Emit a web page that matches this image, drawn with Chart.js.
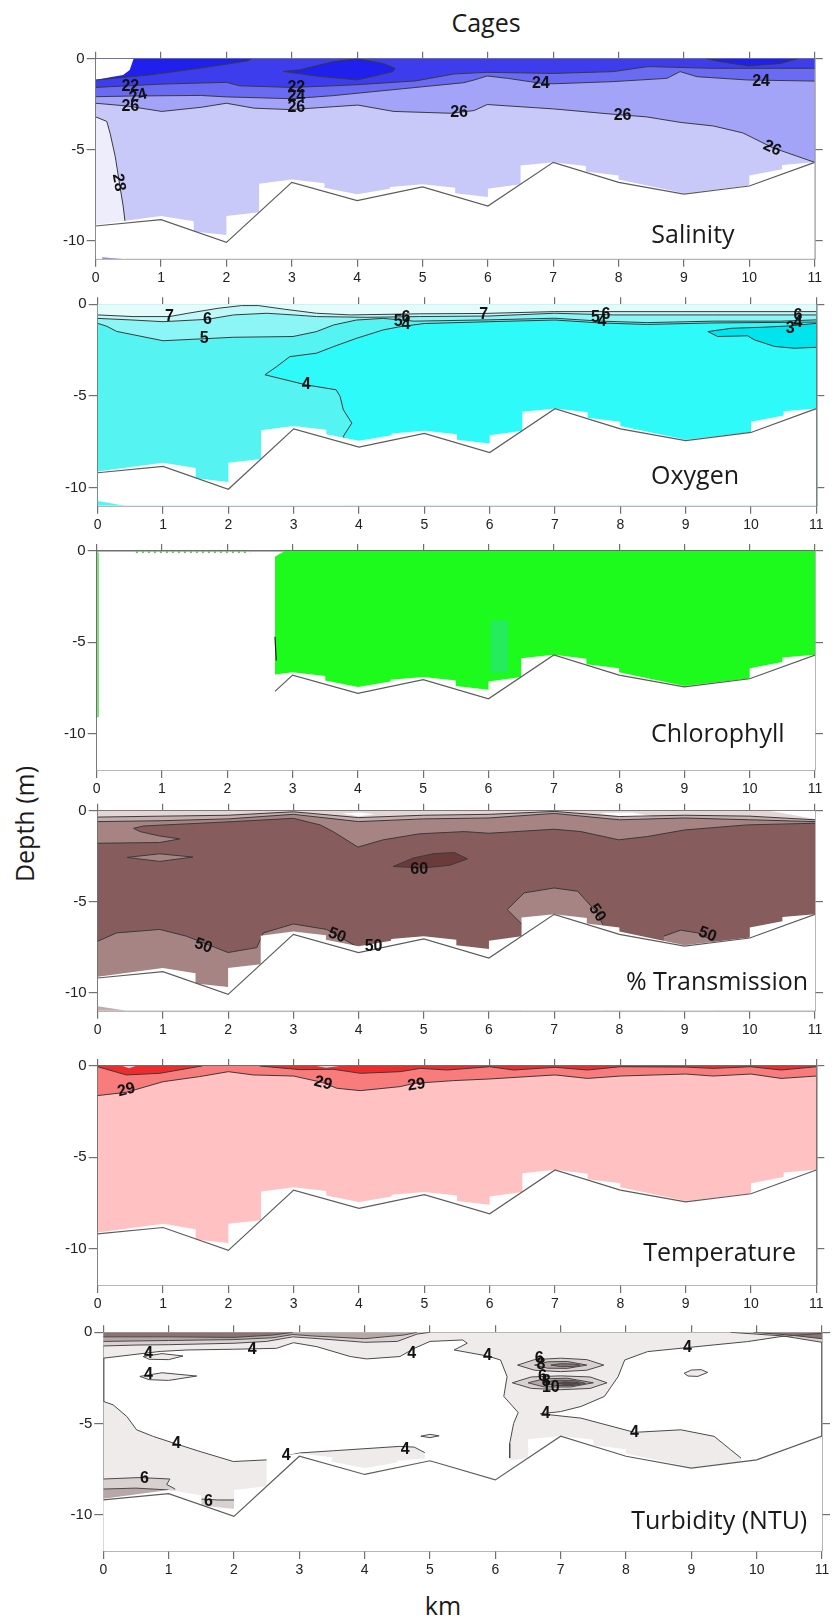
<!DOCTYPE html>
<html>
<head>
<meta charset="utf-8">
<script src="https://cdn.jsdelivr.net/npm/chart.js@4.4.1/dist/chart.umd.min.js"></script>
<style>
  body { margin: 0; width: 834px; height: 1620px; background: #fff; position: relative; overflow: hidden; }
  canvas.panel { position: absolute; left: 0; }
  .txt { position: absolute; font-family: "Open Sans", sans-serif; font-size: 25px; color: #1a1a1a; white-space: nowrap; }
</style>
</head>
<body>
<div class="txt" style="left:486px; top:22px; transform:translate(-50%,-50%)">Cages</div>
<div class="txt" style="left:24px; top:824px; transform:translate(-50%,-50%) rotate(-90deg)">Depth (m)</div>
<div class="txt" style="left:443px; top:1605px; transform:translate(-50%,-50%)">km</div>
<script>
// ---- axes ----
const kmTicks = [0, 1, 2, 3, 4, 5, 6, 7, 8, 9, 10, 11];
const depthTicks = [0, -5, -10];

// ---- seabed along the transect, and the edge of the gridded data ----
const bedKm = [0, 1, 2, 3, 4, 5, 6, 7, 8, 9, 10, 11];
const bedDepth = [-9.2, -8.85, -10.1, -6.8, -7.8, -7.05, -8.1, -5.7, -6.8, -7.45, -7.0, -5.7];
const chlBedKm = [2.73, 3, 4, 5, 6, 7, 8, 9, 10, 11];
const chlBedDepth = [-7.69, -6.8, -7.8, -7.05, -8.1, -5.7, -6.8, -7.45, -7.0, -5.7];
const floorKm = [0, 1, 1.5, 1.5, 2, 2, 2.5, 2.5, 3, 3.5, 3.5, 4, 4.5, 4.5, 5, 5.5, 5.5, 6, 6, 6.5, 6.5, 7, 7.5, 7.5, 8, 8, 9, 10, 10, 10.5, 10.5, 11];
const floorDepth = [-9.13, -8.65, -8.94, -9.5, -9.7, -8.65, -8.45, -6.88, -6.65, -6.85, -7.1, -7.45, -7.15, -7.05, -6.9, -7.1, -7.4, -7.6, -7.15, -6.9, -5.87, -5.69, -5.9, -6.2, -6.42, -6.65, -7.4, -6.98, -6.42, -6.08, -5.84, -5.69];

// ---- salinity contours [km, depth] ----
const sal20 = [[0,-1.17],[0.81,-0.9],[1.57,-0.53],[2.0,-0.3],[2.33,-0.11],[2.38,0]];
const salLens1 = [[2.87,-0.7],[3.12,-0.61],[3.64,-0.16],[4.0,0],[4.4,-0.26],[4.58,-0.53],[4.55,-0.71],[4.0,-1.17],[3.37,-0.95],[2.87,-0.7]];
const salLens2 = [[9.34,0],[9.55,-0.16],[9.99,-0.4],[10.48,-0.26],[10.73,0]];
const sal22 = [[0,-1.58],[0.98,-1.4],[2,-1.3],[2.2,-1.49],[3,-1.58],[3.64,-1.49],[4.0,-1.43],[4.9,-1.22],[5.48,-0.84],[5.99,-0.75],[7,-0.81],[7.92,-0.71],[8.43,-0.44],[8.53,-0.44],[9.45,-0.53],[11,-0.53]];
const sal24 = [[0,-2.09],[0.6,-2.05],[1.6,-2.02],[2,-2.1],[3,-2.2],[3.64,-2.03],[4.0,-1.9],[4.9,-1.58],[5.63,-1.32],[5.79,-1.17],[5.99,-0.95],[6.3,-1.08],[6.81,-1.35],[7,-1.38],[7.92,-1.26],[8.74,-1.08],[8.94,-0.71],[9.2,-0.99],[9.97,-1.17],[11,-1.23]];
const sal26 = [[0,-2.45],[0.48,-2.6],[1.01,-2.9],[1.62,-2.67],[2.0,-2.45],[2.42,-2.72],[2.98,-2.8],[3.64,-2.64],[4.01,-2.55],[4.56,-2.9],[5.43,-3.0],[5.79,-2.85],[5.99,-2.52],[7.0,-2.76],[7.9,-3.05],[8.43,-3.2],[8.94,-3.5],[9.45,-3.7],[9.9,-4.08],[10.36,-4.9],[11,-5.7]];
const sal28 = [[0,-3.2],[0.17,-3.45],[0.22,-4.1],[0.3,-5.4],[0.37,-7.0],[0.42,-8.1],[0.45,-9.0]];
const salBlank = [[0,0],[0,-1.17],[0.22,-1.02],[0.42,-0.9],[0.52,-0.62],[0.58,0]];
const salCorner = [[0.1,-10.93],[0.43,-11],[0.1,-11]];
const salLabels = [['22',0.53,-1.54,0],['24',0.65,-2.05,-15],['26',0.53,-2.66,0],['22',3.07,-1.58,0],['24',3.07,-2.1,0],['26',3.07,-2.7,0],
  ['24',6.81,-1.36,0],['24',10.18,-1.26,0],['26',5.56,-2.98,0],['26',8.06,-3.15,0],['26',10.35,-4.93,25],['28',0.35,-6.81,80]];

// ---- oxygen contours ----
const ox4 = [[3.78,-7.4],[3.76,-7.21],[3.89,-6.49],[3.76,-5.76],[3.71,-5.03],[3.65,-4.67],[3.19,-4.4],[2.56,-3.85],[2.74,-3.4],[2.94,-2.86],[3.35,-2.67],[3.61,-2.31],[3.96,-1.86],[4.37,-1.4],[4.63,-1.22],[5.0,-1.05],[6,-0.95],[7,-0.86],[7.7,-1.02],[8.4,-1.1],[9.4,-1.02],[11,-0.97]];
const ox5 = [[0,-1.04],[0.14,-1.2],[0.29,-1.48],[0.54,-1.66],[1.0,-1.99],[1.63,-1.88],[2.08,-1.8],[2.99,-1.76],[3.35,-1.49],[3.61,-1.13],[3.96,-0.86],[4.37,-0.77],[4.84,-0.92],[5.99,-0.85],[6.99,-0.76],[7.7,-0.92],[8.41,-1.0],[9.43,-0.92],[10.45,-0.92],[11,-0.85]];
const ox6 = [[0,-0.77],[0.54,-0.86],[1.0,-0.95],[1.68,-0.82],[2.08,-0.58],[2.59,-0.49],[2.99,-0.58],[3.35,-0.67],[4.12,-0.71],[4.93,-0.67],[5.99,-0.64],[6.99,-0.49],[7.9,-0.58],[9.43,-0.58],[11,-0.58]];
const ox7 = [[0,-0.58],[0.54,-0.67],[1.1,-0.67],[1.38,-0.49],[1.84,-0.22],[2.2,-0.07],[2.46,-0.07],[2.86,-0.27],[3.35,-0.49],[3.87,-0.58],[4.93,-0.52],[5.9,-0.5],[6.99,-0.4],[8.93,-0.4],[11,-0.4]];
const ox3 = [[11,-2.35],[10.66,-2.4],[10.36,-2.3],[10.05,-1.94],[9.95,-1.72],[9.49,-1.76],[9.34,-1.49],[9.7,-1.31],[10.2,-1.25],[10.6,-1.18],[11,-1.04]];
const oxCorner = [[0,-10.75],[0.42,-11],[0,-11]];
const oxLabels = [['7',1.1,-0.67,0],['6',1.68,-0.84,0],['5',1.63,-1.88,0],['4',3.19,-4.4,0],['5',4.6,-0.94,0],['6',4.72,-0.7,0],['4',4.72,-1.1,0],
  ['7',5.91,-0.55,0],['5',7.62,-0.72,0],['6',7.78,-0.58,0],['4',7.72,-0.95,0],['6',10.72,-0.6,0],['4',10.72,-1.0,0],['3',10.6,-1.35,0]];

// ---- chlorophyll ----
const chlGreen = [[2.73,-0.31],[2.88,0],[11,0],[11,-13],[2.73,-13]];
const chlPatch = [[6.03,-3.8],[6.3,-3.8],[6.3,-6.67],[6.03,-6.67]];
const chlEdge = [[2.73,-4.7],[2.75,-6.0]];
const chlLeft = [[0.02,-0.1],[0.02,-9.1]];
const chlSurf = [[0.6,-0.05],[2.35,-0.05]];

// ---- % transmission contours ----
const trTop50 = [[0,-1.79],[0.95,-1.75],[1.26,-1.55],[0.95,-1.39],[0.65,-1.15],[0.55,-0.97],[0.7,-0.84],[1.57,-0.69],[2.08,-0.6],[3.0,-0.42],[3.41,-0.78],[3.61,-1.15],[3.99,-2.0],[4.38,-1.6],[4.94,-1.27],[5.62,-1.15],[6.0,-1.24],[7.0,-1.02],[7.41,-1.15],[7.99,-1.6],[8.43,-1.42],[9.0,-1.06],[9.96,-0.78],[11,-0.69]];
const trLens = [[0.45,-2.57],[0.95,-2.37],[1.46,-2.55],[0.95,-2.79],[0.45,-2.57]];
const tr50bot = [[0,-7.18],[0.29,-6.72],[0.95,-6.53],[1.36,-6.9],[2.0,-7.8],[2.44,-7.53],[2.54,-6.72],[3.0,-6.23],[3.51,-6.53],[4.0,-7.53],[4.3,-7.45]];
const tr50bump = [[6.51,-6.26],[6.28,-5.44],[6.54,-4.52],[7.0,-4.25],[7.36,-4.43],[7.66,-5.62],[7.71,-5.99],[7.75,-6.3]];
const tr50bump2 = [[8.68,-6.9],[8.94,-6.57],[9.2,-6.72],[9.45,-7.18]];
const tr60 = [[4.53,-3.07],[4.84,-2.6],[5.16,-2.36],[5.47,-2.3],[5.67,-2.65],[5.4,-3.0],[5.0,-3.15],[4.53,-3.07]];
const trTop40 = [[0,-0.6],[1,-0.55],[2,-0.45],[3,-0.2],[4,-0.6],[5,-0.45],[6,-0.4],[7,-0.15],[8,-0.5],[9,-0.4],[10,-0.5],[11,-0.6]];
const trTop30 = [[0,-0.35],[1,-0.3],[2,-0.25],[3,-0.06],[4,-0.38],[5,-0.25],[6,-0.2],[7,-0.04],[8,-0.32],[9,-0.25],[10,-0.3],[11,-0.5]];
const trClear1 = [[3.75,-0.15],[4.0,-0.3],[4.25,-0.2],[4.0,-0.1]];
const trClear2 = [[7.7,-0.12],[8.0,-0.35],[8.5,-0.3],[8.2,-0.1]];
const trClear3 = [[10.3,0],[11,-0.45],[11,0]];
const trCorner = [[0,-10.75],[0.45,-11],[0,-11]];
const trLabels = [['60',4.93,-3.25,0],['50',1.62,-7.44,20],['50',3.67,-6.86,20],['50',4.23,-7.45,0],['50',7.66,-5.62,55],['50',9.35,-6.81,20]];

// ---- temperature contours ----
const t29 = [[0,-1.62],[0.44,-1.44],[1.0,-0.86],[1.56,-0.58],[2.0,-0.31],[2.38,-0.49],[3.0,-0.55],[3.44,-0.9],[3.66,-1.22],[4.02,-1.35],[4.63,-1.13],[4.84,-0.95],[5.45,-0.8],[6.0,-0.71],[7.0,-0.49],[7.5,-0.68],[8.0,-0.55],[9.0,-0.44],[9.42,-0.55],[10.0,-0.44],[10.46,-0.68],[11,-0.55]];
const t30a = [[0,-0.04],[0.44,-0.49],[0.95,-0.4],[1.53,-0.04],[1.6,0]];
const t30b = [[2.48,0],[3.1,-0.2],[3.61,-0.18],[4.02,-0.4],[4.63,-0.31],[4.94,-0.13],[5.35,-0.22],[6.0,-0.04],[6.37,-0.22],[7.0,-0.07],[7.5,-0.22],[8.0,-0.04],[9.0,-0.06],[9.42,-0.13],[10,-0.04],[10.46,-0.22],[11,-0.04]];
const tDip1 = [[0.38,0],[0.48,-0.12],[0.58,0]];
const tDip2 = [[3.35,0],[3.5,-0.1],[3.7,0]];
const tLabels = [['29',0.44,-1.31,-15],['29',3.45,-0.95,15],['29',4.88,-1.04,-8]];

// ---- turbidity contours ----
const tb4up = [[0,-1.42],[0.4,-1.25],[0.87,-1.05],[1.28,-0.97],[1.99,-0.93],[2.65,-0.88],[2.91,-0.57],[3.27,-0.79],[3.78,-1.33],[4.03,-1.46],[4.54,-1.33],[4.76,-0.88],[5.0,-0.5],[5.5,-0.42],[5.57,-0.6],[5.37,-0.97],[5.88,-1.3],[6.08,-1.52],[6.18,-2.43],[6.13,-3.52],[6.35,-4.4],[6.28,-5.0],[6.22,-6.1],[6.22,-6.9]];
const tb4low = [[9.76,-6.9],[9.6,-6.44],[9.35,-5.71],[8.84,-5.35],[8.13,-5.49],[7.31,-4.71],[6.69,-4.47],[7.0,-4.35],[7.31,-4.07],[7.67,-3.52],[7.88,-2.43],[7.98,-1.52],[8.33,-1.06],[8.94,-0.84],[9.35,-0.69],[9.86,-0.51],[10.36,-0.24],[11,-0.05]];
const tb4left = [[0,-3.79],[0.15,-3.98],[0.36,-4.62],[0.51,-5.35],[0.77,-5.72],[1.12,-6.13],[1.48,-6.54],[1.99,-7.09],[2.5,-7.0],[3.01,-6.62],[3.52,-6.5],[4.54,-6.26],[4.76,-6.3],[4.92,-6.6]];
const tbE1 = [[0.61,-1.33],[0.9,-1.17],[1.22,-1.3],[1.0,-1.5],[0.7,-1.48],[0.61,-1.33]];
const tbE2 = [[0.56,-2.42],[0.9,-2.22],[1.43,-2.4],[1.0,-2.64],[0.7,-2.6],[0.56,-2.42]];
const tbE3 = [[8.89,-2.25],[9.0,-2.07],[9.15,-2.05],[9.25,-2.2],[9.1,-2.42],[8.95,-2.4],[8.89,-2.25]];
const tbE4 = [[4.86,-5.7],[5.0,-5.6],[5.14,-5.68],[5.0,-5.78],[4.86,-5.7]];
const tbS6 = [[0,-0.75],[0.5,-0.7],[1,-0.68],[2,-0.6],[2.5,-0.5],[2.9,-0.25],[3.3,-0.35],[4.0,-0.55],[4.5,-0.5],[4.8,-0.1],[5.0,0]];
const tbS8 = [[0,-0.5],[1,-0.45],[2,-0.4],[2.6,-0.3],[2.9,-0.12],[3.2,-0.2],[4,-0.35],[4.6,-0.15],[4.8,0]];
const tbS10 = [[0,-0.25],[1,-0.25],[2,-0.28],[2.6,-0.15],[2.9,0]];
const tbR6 = [[9.6,0],[10.4,-0.2],[11,-0.55]];
const tbR8 = [[9.95,0],[10.5,-0.15],[11,-0.35]];
const tbUp6 = [[6.34,-1.8],[6.6,-1.5],[7.0,-1.42],[7.4,-1.5],[7.66,-1.8],[7.4,-2.08],[7.0,-2.16],[6.6,-2.08],[6.34,-1.8]];
const tbUp8 = [[6.6,-1.8],[6.8,-1.62],[7.1,-1.6],[7.4,-1.8],[7.1,-1.98],[6.8,-1.97],[6.6,-1.8]];
const tbUp10 = [[6.85,-1.8],[7.0,-1.72],[7.2,-1.74],[7.3,-1.8],[7.2,-1.88],[7.0,-1.88],[6.85,-1.8]];
const tbLo6 = [[6.26,-2.77],[6.55,-2.45],[7.0,-2.39],[7.45,-2.45],[7.71,-2.77],[7.45,-3.08],[7.0,-3.15],[6.55,-3.08],[6.26,-2.77]];
const tbLo8 = [[6.5,-2.77],[6.75,-2.55],[7.1,-2.52],[7.5,-2.77],[7.15,-3.0],[6.75,-3.0],[6.5,-2.77]];
const tbLo10 = [[6.75,-2.77],[6.9,-2.63],[7.2,-2.64],[7.38,-2.8],[7.2,-2.92],[6.9,-2.92],[6.75,-2.77]];
const tbLo12 = [[6.95,-2.8],[7.05,-2.72],[7.25,-2.75],[7.3,-2.82],[7.1,-2.88],[6.95,-2.8]];
const tb6a = [[0,-8.05],[0.56,-7.97],[1.02,-8.05],[0.97,-8.35],[1.1,-8.6]];
const tb8a = [[0,-8.6],[0.5,-8.55],[1,-8.65]];
const tb6b = [[1.5,-9.15],[1.75,-9.2],[2.0,-9.2]];
const tbLabels = [['4',0.69,-1.15,0],['4',2.28,-0.97,0],['4',4.72,-1.15,0],['4',0.69,-2.34,0],['4',5.88,-1.3,0],['4',8.94,-0.84,0],
  ['4',1.12,-6.11,0],['4',2.8,-6.75,0],['4',4.62,-6.44,0],['4',6.77,-4.47,0],['4',8.13,-5.49,0],['6',0.63,-8.03,0],['6',1.61,-9.3,0],
  ['6',6.67,-1.45,0],['8',6.7,-1.75,0],['6',6.72,-2.45,0],['8',6.78,-2.7,0],['10',6.85,-3.05,0]];

// ---- colours ----
const LINE = '#3a3a3a';
const BEDC = '#5c5c5c';
const col = {
  s18: '#1f1fee', s20: '#3d3dee', s22: '#6a6af2', s24: '#a3a3f7', s26: '#c8c8f9', s28: '#ededfc',
  o3: '#00e4ee', o4: '#2efafa', o45: '#56f3f3', o56: '#8cf5f5', o67: '#bff8f8', o7: '#e4fbfb',
  chl: '#1dfb1d', chl2: '#24ec5c',
  trMain: '#875c5c', trLight: '#a68484', tr60: '#6b3a3a', trBand: '#c5abab', trBand2: '#e2d6d6',
  tPink: '#ffc1c1', tSalmon: '#f97c7c', tRed: '#ef2c2c', tGrey: '#d8d0d0',
  g4: '#efebeb', g6: '#d9d0d0', g8: '#b7a8a8', g10: '#8b7373', g12: '#5e4444'
};

const zip = (xs, ys) => xs.map((x, i) => [x, ys[i]]);
const WATER = [[0,0],[11,0],[11,-13],[0,-13]];
const MASK = zip(floorKm, floorDepth).concat([[11,-13],[0,-13]]);
const BED = zip(bedKm, bedDepth);
const above = p => p.concat([[11,0],[0,0]]);
const below = p => p.concat([[p[p.length-1][0],-13],[p[0][0],-13]]);

function shape(p, color) {
  return { data: p.map(([x, y]) => ({x, y})), fill: 'shape', backgroundColor: color,
           borderColor: 'rgba(0,0,0,0)', borderWidth: 0, pointRadius: 0, tension: 0 };
}
function stroke(p, color, width, dash) {
  return { data: p.map(([x, y]) => ({x, y})), fill: false, borderColor: color || LINE,
           borderWidth: width || 1, borderDash: dash || [], pointRadius: 0, tension: 0 };
}
const strokes = list => list.map(p => stroke(p));

// contour labels and the panel name
const overlay = {
  id: 'overlay',
  afterDatasetsDraw(chart, args, opts) {
    const {ctx, scales: {x, y}} = chart;
    ctx.save();
    ctx.fillStyle = '#111';
    ctx.font = 'bold 16px "Liberation Sans", Arial, sans-serif';
    ctx.textAlign = 'center';
    ctx.textBaseline = 'middle';
    for (const [t, km, d, a] of opts.labels) {
      ctx.save();
      ctx.translate(x.getPixelForValue(km), y.getPixelForValue(d));
      ctx.rotate(a * Math.PI / 180);
      ctx.fillText(t, 0, 0);
      ctx.restore();
    }
    const [name, km, d] = opts.title;
    ctx.font = '25px "Open Sans", sans-serif';
    ctx.fillStyle = '#1a1a1a';
    ctx.textAlign = 'left';
    ctx.textBaseline = 'alphabetic';
    ctx.fillText(name, x.getPixelForValue(km), y.getPixelForValue(d));
    ctx.restore();
  }
};

function makePanel(box, sets, labels, title) {
  const top = Math.floor(box.top) - 12;
  const height = Math.ceil(box.bottom - top + 34);
  const cv = document.createElement('canvas');
  cv.className = 'panel';
  cv.width = 834; cv.height = height;
  cv.style.top = top + 'px';
  cv.style.width = '834px'; cv.style.height = height + 'px';
  document.body.appendChild(cv);

  const datasets = sets.map((d, k) => Object.assign(d, {order: sets.length - k}));
  const grid = { drawOnChartArea: false, drawTicks: true, tickLength: 8, color: '#707070', lineWidth: 1.2 };
  const border = { display: true, color: '#6e6e6e', width: 1.5 };
  const kmT = s => { s.ticks = kmTicks.map(v => ({value: v})); };
  const dT = s => { s.ticks = depthTicks.map(v => ({value: v})); };
  const tickFont = { family: '"Liberation Sans", Arial, sans-serif', size: 14 };

  new Chart(cv, {
    type: 'line',
    data: { datasets },
    options: {
      responsive: false, animation: false, events: [],
      layout: { padding: 0 },
      plugins: { legend: { display: false }, tooltip: { enabled: false }, overlay: { labels, title } },
      scales: {
        x: { type: 'linear', position: 'bottom', min: 0, max: 11, z: 1, afterBuildTicks: kmT,
             afterFit: s => { s.height = top + height - box.bottom; },
             ticks: { font: tickFont, color: '#222', padding: 3, maxRotation: 0, autoSkip: false },
             grid, border },
        xTop: { type: 'linear', position: 'top', min: 0, max: 11, z: 1, afterBuildTicks: kmT,
             afterFit: s => { s.height = box.top - top; },
             ticks: { display: false }, grid: Object.assign({}, grid, {tickLength: 7}), border },
        y: { type: 'linear', position: 'left', min: box.yMin, max: 0, z: 1, afterBuildTicks: dT,
             afterFit: s => { s.width = box.left; },
             ticks: { font: Object.assign({}, tickFont, {size: 15}), color: '#222', padding: 2 },
             grid: Object.assign({}, grid, {tickLength: 9}), border },
        yRight: { type: 'linear', position: 'right', min: box.yMin, max: 0, z: 1, afterBuildTicks: dT,
             afterFit: s => { s.width = 834 - box.right; },
             ticks: { display: false }, grid, border }
      }
    },
    plugins: [overlay]
  });
}

// panel frames in page pixels
const boxes = [
  { left: 95.7, right: 814.7, top: 58.7, bottom: 258.7, yMin: -11 },
  { left: 97.7, right: 816.3, top: 304.3, bottom: 505.7, yMin: -11 },
  { left: 96.7, right: 815, top: 551, bottom: 770, yMin: -12 },
  { left: 97.7, right: 815, top: 810.7, bottom: 1010.7, yMin: -11 },
  { left: 97.7, right: 816.3, top: 1066, bottom: 1285, yMin: -12 },
  { left: 103.3, right: 822, top: 1332.3, bottom: 1551, yMin: -12 }
];

// Salinity
makePanel(boxes[0], [
  shape(WATER, col.s26), shape(above(sal26), col.s24), shape(above(sal24), col.s22), shape(above(sal22), col.s20),
  shape(sal20.concat([[0,0]]), col.s18), shape(salLens1, col.s18), shape(salLens2, col.s18),
  shape(below(sal28), col.s28), shape(salBlank, '#ffffff'),
  ...strokes([sal20, salLens1, salLens2, sal22, sal24, sal26, sal28]),
  shape(MASK, '#ffffff'), shape(salCorner, col.s20), stroke(BED, BEDC, 1.2)
], salLabels, ['Salinity', 8.5, -10.14]);

// Oxygen
makePanel(boxes[1], [
  shape(WATER, col.o4), shape(ox4.concat([[11,0],[0,0],[0,-13],[3.78,-13]]), col.o45),
  shape(above(ox5), col.o56), shape(above(ox6), col.o67), shape(above(ox7), col.o7), shape(ox3, col.o3),
  ...strokes([ox4, ox5, ox6, ox7, ox3]),
  shape(MASK, '#ffffff'), shape(oxCorner, col.o45), stroke(BED, BEDC, 1.2)
], oxLabels, ['Oxygen', 8.47, -9.79]);

// Chlorophyll
makePanel(boxes[2], [
  shape(chlGreen, col.chl), shape(chlPatch, col.chl2),
  stroke(chlEdge, '#222', 1.2), stroke(chlLeft, '#7be27b', 2), stroke(chlSurf, '#55d055', 2, [2, 4]),
  shape(MASK, '#ffffff'), stroke(zip(chlBedKm, chlBedDepth), BEDC, 1.2)
], [], ['Chlorophyll', 8.49, -10.46]);

// % Transmission
makePanel(boxes[3], [
  shape(WATER, col.trMain), shape(above(trTop50), col.trLight), shape(trLens, col.trLight),
  shape(below(tr50bot), col.trLight), shape(below(tr50bump), col.trLight), shape(below(tr50bump2), col.trLight),
  shape(tr60, col.tr60), shape(above(trTop40), col.trBand), shape(above(trTop30), col.trBand2),
  shape(trClear1, '#ffffff'), shape(trClear2, '#ffffff'), shape(trClear3, '#ffffff'),
  ...strokes([trTop50, trLens, tr50bot, tr50bump, tr50bump2, tr60, trTop40, trTop30]),
  shape(MASK, '#ffffff'), shape(trCorner, col.trBand), stroke(BED, BEDC, 1.2)
], trLabels, ['% Transmission', 8.1, -9.86]);

// Temperature
makePanel(boxes[4], [
  shape(WATER, col.tPink), shape(above(t29), col.tSalmon),
  shape(t30a.concat([[0,0]]), col.tRed), shape(t30b.concat([[11,0]]), col.tRed),
  shape(tDip1, col.tGrey), shape(tDip2, col.tGrey),
  ...strokes([t29, t30a, t30b]),
  shape(MASK, '#ffffff'), stroke(BED, BEDC, 1.2)
], tLabels, ['Temperature', 8.35, -10.66]);

// Turbidity
makePanel(boxes[5], [
  shape(tb4up.concat([[6.22,-13],[9.76,-13]], tb4low, [[11,0],[0,0]]), col.g4),
  shape(below(tb4left), col.g4), shape(tbE1, col.g4), shape(tbE2, col.g4), shape(tbE3, col.g4), shape(tbE4, col.g4),
  shape(tbS6.concat([[0,0]]), col.g6), shape(tbS8.concat([[0,0]]), col.g8), shape(tbS10.concat([[0,0]]), col.g10),
  shape(tbR6.concat([[11,0]]), col.g6), shape(tbR8.concat([[11,0]]), col.g10),
  shape(tbUp6, col.g6), shape(tbUp8, col.g8), shape(tbUp10, col.g10),
  shape(tbLo6, col.g6), shape(tbLo8, col.g8), shape(tbLo10, col.g10), shape(tbLo12, col.g12),
  shape(below(tb6a), col.g6), shape(below(tb8a), col.g8), shape(below(tb6b), col.g6),
  ...[tb4up, tb4low, tb4left, tbE1, tbE2, tbE3, tbE4, tbS6, tbS8, tbS10, tbR6, tbR8,
      tbUp6, tbUp8, tbUp10, tbLo6, tbLo8, tbLo10, tbLo12, tb6a, tb8a, tb6b].map(p => stroke(p, '#4a4a4a', 1)),
  shape(MASK, '#ffffff'), stroke(BED, BEDC, 1.2)
], tbLabels, ['Turbidity (NTU)', 8.08, -10.82]);
</script>
</body>
</html>
